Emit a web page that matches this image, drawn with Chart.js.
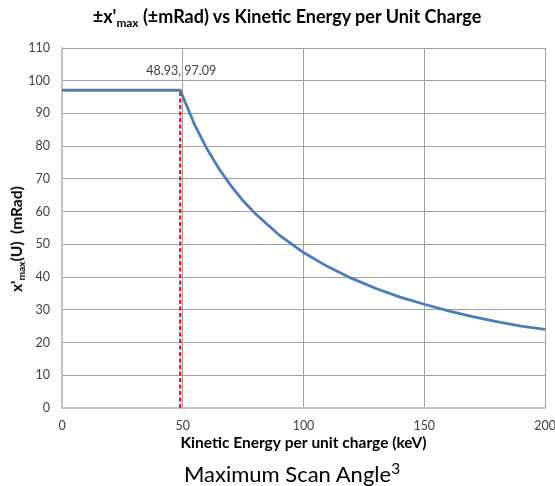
<!DOCTYPE html>
<html>
<head>
<meta charset="utf-8">
<script src="https://cdn.jsdelivr.net/npm/chart.js@4.4.1/dist/chart.umd.min.js"></script>
<style>
html,body{margin:0;padding:0;background:#fff;}
#wrap{position:relative;width:555px;height:486px;overflow:hidden;font-family:Lato,"Open Sans",sans-serif;}
#c{position:absolute;left:0;top:0;}
.t{position:absolute;white-space:nowrap;color:#000;line-height:normal;}
#title{left:0;width:574px;text-align:center;top:5px;font-weight:bold;font-size:18px;}
#ytitle{left:16px;top:239px;transform:translate(-50%,-50%) rotate(-90deg);font-weight:bold;font-size:15.5px;}
#caption{left:0;width:584px;text-align:center;top:460px;font-size:22px;}
sub{font-size:0.66em;vertical-align:-0.3em;line-height:0;}
sup{font-size:0.7em;vertical-align:0.5em;line-height:0;}
</style>
</head>
<body>
<div id="wrap">
  <canvas id="c" width="555" height="486"></canvas>
  <div class="t" id="title">±x'<sub>max</sub> (±mRad) vs Kinetic Energy per Unit Charge</div>
  <div class="t" id="ytitle">x'<sub>max</sub>(U)&nbsp; (mRad)</div>
  <div class="t" id="caption">Maximum Scan Angle<sup>3</sup></div>
</div>
<script>
// ---- data ----
const energy = [0, 48.93, 55, 60, 65, 70, 75, 80, 90, 100, 110, 120, 130, 140, 150, 160, 170, 180, 190, 200];
const angle  = [97.09, 97.09, 86.4, 79.2, 73.1, 67.9, 63.3, 59.4, 52.8, 47.5, 43.2, 39.6, 36.5, 33.9, 31.7, 29.7, 27.9, 26.4, 25.0, 24.0];
const markerEnergy = [48.93, 48.93];
const markerAngle  = [0, 97.09];
const xTicks = [0, 50, 100, 150, 200];
const yTicks = [0, 10, 20, 30, 40, 50, 60, 70, 80, 90, 100, 110];
const xTitle = 'Kinetic Energy per unit charge (keV)';
const pointLabel = markerEnergy[1].toFixed(2) + ', ' + markerAngle[1].toFixed(2);

const FONT = 'Lato, "Open Sans", sans-serif';

const labelPlugin = {
  id: 'pointLabel',
  afterDatasetsDraw(chart) {
    const {ctx, scales: {x, y}} = chart;
    const px = x.getPixelForValue(markerEnergy[1]);
    const py = y.getPixelForValue(markerAngle[1]);
    ctx.save();
    ctx.font = '12.5px ' + FONT;
    ctx.fillStyle = '#404040';
    ctx.textAlign = 'center';
    ctx.textBaseline = 'middle';
    ctx.fillText(pointLabel, px + 1, py - 19);
    ctx.restore();
  }
};

new Chart(document.getElementById('c'), {
  type: 'line',
  data: {
    datasets: [
      {
        label: "x'max",
        data: energy.map((e, i) => ({x: e, y: angle[i]})),
        borderColor: '#4a7ebb',
        borderWidth: 2.8,
        pointRadius: 0,
        tension: 0,
        fill: false,
        order: 1
      },
      {
        label: 'marker',
        data: markerEnergy.map((e, i) => ({x: e, y: markerAngle[i]})),
        borderColor: '#ff0000',
        borderWidth: 2,
        borderDash: [4, 2.5],
        pointRadius: 0,
        tension: 0,
        fill: false,
        order: 2
      }
    ]
  },
  options: {
    responsive: false,
    animation: false,
    layout: {padding: {left: 0, top: 48, right: 10, bottom: 34}},
    plugins: {legend: {display: false}, tooltip: {enabled: false}, title: {display: false}},
    scales: {
      x: {
        type: 'linear',
        min: 0, max: 200,
        afterBuildTicks: s => { s.ticks = xTicks.map(v => ({value: v})); },
        afterFit: s => { s.height = 44; s.paddingLeft = 0; s.paddingRight = 0; },
        grid: {color: '#a0a0a0', lineWidth: 1, drawTicks: false},
        border: {color: '#c4c4c4', width: 2},
        ticks: {font: {family: FONT, size: 12.5}, color: '#404040', padding: 10, maxRotation: 0},
        title: {display: true, text: xTitle, font: {family: FONT, size: 15.5, weight: 'bold'}, color: '#000', padding: 0}
      },
      y: {
        type: 'linear',
        min: 0, max: 110,
        afterBuildTicks: s => { s.ticks = yTicks.map(v => ({value: v})); },
        afterFit: s => { s.width = 62; s.paddingTop = 0; s.paddingBottom = 0; },
        grid: {color: '#a0a0a0', lineWidth: 1, drawTicks: false},
        border: {color: '#c4c4c4', width: 2},
        ticks: {font: {family: FONT, size: 12.5}, color: '#404040', padding: 12}
      }
    }
  },
  plugins: [labelPlugin]
});
</script>
</body>
</html>
